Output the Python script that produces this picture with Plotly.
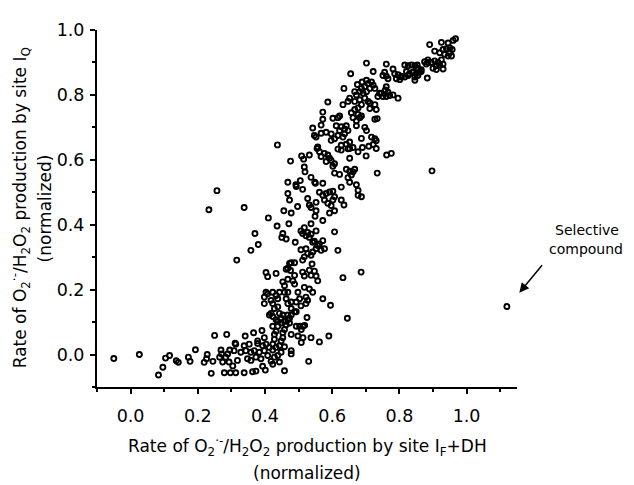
import plotly.graph_objects as go

# ---- data (x = site IF+DH rate, y = site IQ rate) ----
tail_pts = [(-0.05,-0.012),(0.026,0.0),(0.083,-0.063),(0.096,-0.039),(0.104,-0.011),(0.116,-0.003),
    (0.136,-0.019),(0.142,-0.024),(0.172,-0.008),(0.177,-0.021),(0.193,0.015),(0.219,-0.024),
    (0.226,-0.013),(0.228,0.0),(0.24,-0.058),(0.245,-0.021),(0.25,0.059),
    (0.265,-0.008),(0.269,0.014),(0.271,0.002),(0.274,-0.023),(0.279,-0.056),(0.283,-0.008),
    (0.286,0.062),(0.289,0.002),(0.293,-0.023),(0.295,0.014),(0.297,-0.056)]

bottom_pts = [(0.304,-0.035),(0.311,0.035),
    (0.313,-0.056),(0.338,-0.056),(0.363,-0.053),(0.373,-0.051),(0.401,-0.048),(0.458,-0.05),(0.53,-0.021),
    (0.393,-0.036),(0.418,-0.021),(0.423,-0.03),(0.443,-0.023),
    (0.318,-0.018),(0.348,-0.013),(0.358,-0.018),(0.373,-0.008),(0.388,-0.013),(0.408,-0.003),
    (0.428,-0.008),(0.438,-0.003),(0.448,0.007),(0.478,0.002),(0.478,0.012),
    (0.308,0.012),(0.328,0.007),(0.343,0.012),(0.358,0.007),(0.368,0.012),(0.383,0.007),(0.398,0.012),
    (0.413,0.022),(0.423,0.014),(0.433,0.022),
    (0.313,0.032),(0.338,0.027),(0.353,0.032),(0.378,0.034),(0.393,0.027),(0.403,0.032),(0.423,0.032),
    (0.443,0.027),(0.458,0.024),
    (0.378,0.042),(0.398,0.052),(0.428,0.047),(0.448,0.042),(0.453,0.052),(0.508,0.037),(0.513,0.052),
    (0.537,0.052),(0.562,0.039),(0.59,0.057),
    (0.341,0.057),(0.366,0.067),(0.391,0.074),(0.428,0.062),(0.433,0.072),(0.453,0.067),(0.458,0.077),
    (0.478,0.062),(0.498,0.057),(0.508,0.077),(0.503,0.087),(0.518,0.09),
    (0.423,0.087),(0.438,0.087),(0.448,0.097),(0.463,0.092),(0.473,0.097),(0.493,0.087),(0.513,0.087)]

lower_pts = [(0.37,0.373),(0.38,0.339),(0.358,0.321),(0.41,0.421),(0.316,0.291),
    (0.436,0.396),(0.471,0.403),(0.453,0.373),(0.45,0.361),(0.463,0.356),(0.49,0.346),
    (0.537,0.403),(0.549,0.426),(0.572,0.413),(0.552,0.381),
    (0.507,0.381),(0.517,0.391),(0.527,0.376),(0.512,0.373),(0.522,0.366),(0.537,0.371),(0.532,0.361),
    (0.542,0.346),(0.547,0.349),(0.557,0.336),(0.562,0.341),(0.572,0.351),(0.552,0.326),(0.567,0.321),
    (0.577,0.326),(0.607,0.378),(0.617,0.321),
    (0.507,0.323),(0.522,0.326),(0.527,0.311),(0.537,0.306),(0.542,0.316),(0.517,0.301),(0.512,0.291),
    (0.54,0.279),(0.478,0.283),(0.488,0.283),(0.473,0.281),(0.468,0.266),(0.476,0.259),(0.463,0.263),
    (0.403,0.253),(0.408,0.24),(0.433,0.25),
    (0.512,0.254),(0.532,0.26),(0.547,0.257),(0.537,0.244),(0.552,0.242),(0.557,0.227),(0.517,0.242),
    (0.488,0.244),(0.468,0.232),(0.453,0.224),(0.458,0.212),(0.483,0.227),(0.488,0.217),
    (0.403,0.192),(0.398,0.177),(0.423,0.192),(0.433,0.182),(0.443,0.192),(0.458,0.192),(0.468,0.192),
    (0.498,0.192),(0.517,0.207),(0.532,0.202),(0.542,0.192),(0.522,0.177),(0.527,0.167),(0.503,0.172),
    (0.493,0.162),(0.522,0.157),(0.507,0.15),(0.478,0.142),(0.468,0.122),(0.493,0.132),(0.473,0.112),
    (0.448,0.112),(0.458,0.102),(0.428,0.142),(0.418,0.127),(0.413,0.122),(0.423,0.117),(0.438,0.102),
    (0.398,0.157),(0.408,0.187),
    (0.438,0.172),(0.418,0.167),(0.423,0.157),(0.438,0.147),(0.463,0.172),(0.468,0.157),(0.478,0.162),
    (0.443,0.127),(0.453,0.122),(0.433,0.107),(0.468,0.107),(0.478,0.122),(0.488,0.132),
    (0.572,0.172),(0.595,0.152),(0.645,0.112),(0.525,0.114),(0.632,0.237),(0.686,0.254)]

middle_pts = [(0.338,0.453),(0.233,0.446),(0.257,0.505),(0.493,0.518),
    (0.476,0.596),(0.509,0.612),(0.515,0.602),(0.532,0.615),(0.517,0.578),(0.519,0.563),
    (0.468,0.531),(0.492,0.523),(0.505,0.536),(0.512,0.509),(0.468,0.496),(0.473,0.476),
    (0.497,0.456),(0.527,0.481),(0.532,0.461),(0.552,0.469),(0.537,0.453),(0.552,0.443),(0.572,0.528),
    (0.55,0.528),(0.537,0.546),(0.456,0.443),(0.478,0.436),
    (0.562,0.5),(0.572,0.491),(0.582,0.496),(0.592,0.501),(0.602,0.503),(0.607,0.486),(0.602,0.476),
    (0.577,0.476),(0.587,0.466),(0.597,0.459),(0.627,0.516),(0.627,0.476),(0.635,0.461),(0.607,0.443),
    (0.592,0.436),
    (0.642,0.571),(0.652,0.565),(0.662,0.563),(0.667,0.571),(0.657,0.553),(0.647,0.545),(0.652,0.531),
    (0.672,0.523),(0.677,0.506),(0.677,0.491),(0.687,0.486),
    (0.652,0.605),(0.734,0.559),(0.762,0.615),(0.776,0.62),
    (0.731,0.635),(0.701,0.612),(0.69,0.638),(0.662,0.638),(0.677,0.625),(0.647,0.634),(0.627,0.63),
    (0.617,0.633),(0.652,0.635),
    (0.577,0.62),(0.587,0.615),(0.592,0.605),(0.597,0.598),(0.567,0.61),(0.582,0.595),(0.602,0.58),
    (0.607,0.588),(0.555,0.635),(0.562,0.625),(0.607,0.559),(0.622,0.555),(0.548,0.531),(0.557,0.64)]

upper_pts = [(0.437,0.646),
    (0.542,0.698),(0.552,0.67),(0.547,0.675),(0.567,0.682),(0.582,0.685),(0.597,0.68),(0.597,0.66),
    (0.607,0.665),(0.617,0.675),(0.622,0.69),(0.572,0.725),(0.572,0.747),(0.567,0.707),(0.602,0.728),
    (0.617,0.73),(0.622,0.735),(0.612,0.705),(0.627,0.702),(0.587,0.778),(0.627,0.645),
    (0.702,0.898),(0.655,0.865),(0.722,0.872),
    (0.675,0.832),(0.689,0.84),(0.702,0.845),(0.707,0.835),(0.717,0.84),(0.722,0.83),(0.697,0.825),
    (0.687,0.82),(0.712,0.82),(0.727,0.82),(0.702,0.81),(0.692,0.805),(0.682,0.81),(0.672,0.8),
    (0.667,0.81),(0.635,0.82),(0.652,0.79),(0.647,0.78),(0.632,0.77),(0.667,0.78),(0.682,0.785),
    (0.697,0.79),(0.707,0.78),(0.712,0.775),(0.727,0.77),(0.741,0.805),(0.736,0.795),(0.731,0.755),
    (0.712,0.758),(0.687,0.77),(0.677,0.76),(0.667,0.755),(0.657,0.745),(0.662,0.73),(0.677,0.74),
    (0.682,0.73),(0.672,0.72),(0.687,0.735),(0.727,0.725),(0.734,0.727),(0.642,0.705),(0.637,0.695),
    (0.647,0.69),(0.672,0.705),(0.697,0.7),(0.702,0.69),(0.717,0.67),(0.727,0.665),(0.731,0.659),
    (0.687,0.666),(0.637,0.68),(0.632,0.67),(0.709,0.642),(0.722,0.647),(0.652,0.655),(0.642,0.648)]

top_pts = [(0.967,0.973),(0.96,0.968),(0.945,0.96),(0.925,0.962),(0.89,0.955),(0.905,0.935),(0.92,0.93),
    (0.93,0.94),(0.94,0.942),(0.95,0.93),(0.955,0.92),(0.945,0.92),(0.935,0.925),(0.95,0.945),(0.957,0.94),
    (0.885,0.908),(0.895,0.9),(0.905,0.905),(0.915,0.9),(0.925,0.908),(0.92,0.892),(0.93,0.895),(0.91,0.89),
    (0.9,0.882),(0.91,0.878),(0.93,0.88),(0.88,0.895),(0.875,0.902),(0.885,0.9),
    (0.816,0.892),(0.826,0.89),(0.836,0.892),(0.846,0.89),(0.853,0.892),(0.855,0.882),(0.865,0.878),
    (0.86,0.87),(0.85,0.865),(0.84,0.87),(0.83,0.865),(0.846,0.855),(0.855,0.86),(0.821,0.872),(0.826,0.86),
    (0.816,0.855),(0.806,0.858),(0.796,0.862),(0.791,0.85),(0.801,0.847),(0.806,0.855),(0.786,0.865),
    (0.781,0.88),(0.761,0.895),(0.756,0.87),(0.751,0.86),(0.766,0.85),(0.761,0.858),(0.883,0.852),
    (0.846,0.845),(0.865,0.872),
    (0.761,0.825),(0.758,0.815),(0.766,0.808),(0.771,0.798),(0.761,0.795),(0.781,0.8),(0.796,0.79),
    (0.746,0.805),(0.751,0.795)]

outlier_pts = [(0.897,0.566),(1.12,0.148)]

x_ticks = [0.0, 0.2, 0.4, 0.6, 0.8, 1.0]
y_ticks = [0.0, 0.2, 0.4, 0.6, 0.8, 1.0]

all_pts = tail_pts + bottom_pts + lower_pts + middle_pts + upper_pts + top_pts + outlier_pts
xs = [p[0] for p in all_pts]
ys = [p[1] for p in all_pts]

FONT = "DejaVu Sans, Liberation Sans, Arial, sans-serif"

fig = go.Figure()
fig.add_trace(go.Scatter(
    x=xs, y=ys, mode="markers",
    marker=dict(symbol="circle-open", size=5, color="black", line=dict(width=1.9, color="black")),
    showlegend=False, hoverinfo="skip"))

axis_common = dict(
    showgrid=False, zeroline=False, showline=True, linecolor="black", linewidth=2,
    ticks="outside", ticklen=5, tickwidth=1.5, tickcolor="black",
    tickfont=dict(family=FONT, size=17.5, color="black"), tickformat=".1f",
    minor=dict(ticks="outside", ticklen=3, tickwidth=1.5, tickcolor="black", dtick=0.1),
)
fig.update_xaxes(range=[-0.1, 1.15], tickvals=x_ticks, ticklabelstandoff=7, **axis_common)
fig.update_yaxes(range=[-0.1, 1.0], tickvals=y_ticks, ticklabelstandoff=2, **axis_common)

TF = dict(family=FONT, size=17, color="black")
# y-axis title (two lines)
fig.add_annotation(xref="paper", yref="paper", x=-0.183, y=0.501, xanchor="center", yanchor="middle",
    textangle=-90, showarrow=False, font=TF,
    text="Rate of O<sub>2</sub><sup>·-</sup>/H<sub>2</sub>O<sub>2</sub> production by site I<sub>Q</sub>")
fig.add_annotation(xref="paper", yref="paper", x=-0.124, y=0.5, xanchor="center", yanchor="middle",
    textangle=-90, showarrow=False, font=TF, text="(normalized)")
# x-axis title (two lines)
fig.add_annotation(xref="paper", yref="paper", x=0.5, y=-0.166, xanchor="center", yanchor="middle",
    showarrow=False, font=TF,
    text="Rate of O<sub>2</sub><sup>·-</sup>/H<sub>2</sub>O<sub>2</sub> production by site I<sub>F</sub>+DH")
fig.add_annotation(xref="paper", yref="paper", x=0.5, y=-0.240, xanchor="center", yanchor="middle",
    showarrow=False, font=TF, text="(normalized)")
# callout
AF = dict(family=FONT, size=14, color="black")
fig.add_annotation(xref="paper", yref="paper", x=1.167, y=0.441, xanchor="center", yanchor="middle",
    showarrow=False, text="Selective", font=AF)
fig.add_annotation(xref="paper", yref="paper", x=1.165, y=0.387, xanchor="center", yanchor="middle",
    showarrow=False, text="compound", font=AF)
fig.add_annotation(xref="paper", yref="paper", x=1.0055, y=0.264, text="", showarrow=True,
    ax=24, ay=-29, arrowhead=2, arrowsize=1.3, arrowwidth=1.5, arrowcolor="black", standoff=0)

# page body has an 8px margin, so the figure is 8px smaller and margins shifted
fig.update_layout(
    width=626, height=477,
    margin=dict(l=89, r=117, t=12, b=98),
    plot_bgcolor="white", paper_bgcolor="white",
    font=dict(family=FONT, color="black"),
)
fig.write_html("out.html")
